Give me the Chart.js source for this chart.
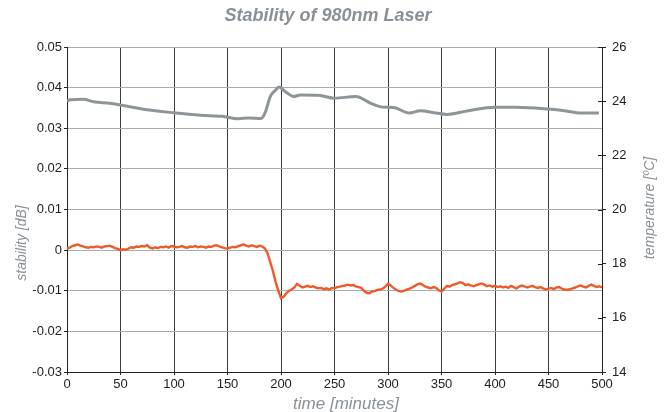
<!DOCTYPE html>
<html>
<head>
<meta charset="utf-8">
<title>Stability of 980nm Laser</title>
<script src="https://cdn.jsdelivr.net/npm/chart.js@4.4.0/dist/chart.umd.min.js"></script>
<style>
  body { margin: 0; background: #fff; }
  #wrap { width: 668px; height: 412px; }
</style>
</head>
<body>
<div id="wrap"><canvas id="chart" width="668" height="412"></canvas></div>
<script>
// stability [dB], sampled every 2.5 minutes from t = 0
var stabilityStart = 0;
var stabilityStep = 2.5;
var stability = [
  0.0004, 0.0006, 0.0010, 0.0012, 0.0014, 0.0011, 0.0009, 0.0007, 0.0006, 0.0008,
  0.0007, 0.0009, 0.0008, 0.0006, 0.0009, 0.0010, 0.0011, 0.0008, 0.0005, 0.0003,
  0.0000, 0.0002, 0.0001, 0.0004, 0.0007, 0.0006, 0.0009, 0.0008, 0.0010, 0.0009,
  0.0012, 0.0006, 0.0004, 0.0007, 0.0005, 0.0008, 0.0007, 0.0009, 0.0006, 0.0010,
  0.0009, 0.0007, 0.0008, 0.0010, 0.0007, 0.0006, 0.0009, 0.0008, 0.0010, 0.0007,
  0.0009, 0.0008, 0.0006, 0.0009, 0.0008, 0.0011, 0.0012, 0.0009, 0.0007, 0.0005,
  0.0004, 0.0006, 0.0008, 0.0007, 0.0010, 0.0012, 0.0014, 0.0011, 0.0009, 0.0012,
  0.0010, 0.0008, 0.0011, 0.0009, 0.0004, -0.0008, -0.0030, -0.0052, -0.0078, -0.0100,
  -0.0118, -0.0115, -0.0106, -0.0100, -0.0097, -0.0092, -0.0083, -0.0088, -0.0092, -0.0090,
  -0.0088, -0.0091, -0.0089, -0.0092, -0.0094, -0.0093, -0.0096, -0.0094, -0.0097, -0.0093,
  -0.0094, -0.0091, -0.0090, -0.0088, -0.0087, -0.0085, -0.0087, -0.0086, -0.0089, -0.0091,
  -0.0093, -0.0100, -0.0105, -0.0106, -0.0102, -0.0101, -0.0098, -0.0097, -0.0095, -0.0090,
  -0.0083, -0.0087, -0.0093, -0.0097, -0.0101, -0.0102, -0.0100, -0.0097, -0.0095, -0.0092,
  -0.0088, -0.0084, -0.0082, -0.0086, -0.0090, -0.0092, -0.0094, -0.0091, -0.0093, -0.0099,
  -0.0102, -0.0095, -0.0088, -0.0090, -0.0086, -0.0084, -0.0082, -0.0079, -0.0081, -0.0086,
  -0.0084, -0.0087, -0.0089, -0.0086, -0.0084, -0.0082, -0.0085, -0.0089, -0.0087, -0.0090,
  -0.0088, -0.0091, -0.0089, -0.0092, -0.0090, -0.0093, -0.0088, -0.0091, -0.0094, -0.0090,
  -0.0087, -0.0089, -0.0092, -0.0090, -0.0088, -0.0091, -0.0093, -0.0091, -0.0094, -0.0097,
  -0.0095, -0.0093, -0.0096, -0.0092, -0.0091, -0.0095, -0.0097, -0.0098, -0.0096, -0.0094,
  -0.0092, -0.0089, -0.0087, -0.0090, -0.0092, -0.0088, -0.0085, -0.0088, -0.0091, -0.0089,
  -0.0092
];

// temperature [ºC] read at these times [minutes]
var tempTime = [0, 3, 15, 25, 40, 50, 70, 100, 125, 145, 160, 170, 181, 185, 190, 195, 198,
  205, 212, 218, 235, 250, 270, 285, 295, 305, 320, 330, 345, 355, 375, 400, 420, 450, 465, 480, 497];
var temperature = [24.00, 24.05, 24.07, 23.98, 23.92, 23.86, 23.71, 23.57, 23.48, 23.44, 23.35, 23.38, 23.36, 23.56, 24.17, 24.41, 24.52,
  24.32, 24.17, 24.23, 24.22, 24.11, 24.17, 23.90, 23.78, 23.77, 23.56, 23.65, 23.56, 23.51, 23.65, 23.78, 23.78, 23.71, 23.65, 23.56, 23.56];

var titleText = 'Stability of 980nm Laser';
var xTitle = 'time [minutes]';
var yTitle = 'stability [dB]';
var y2Title = 'temperature [ºC]';

var FONT = "'Liberation Sans', Arial, sans-serif";
var GREY = '#8a9196';
var INK = '#222';

var stabilityPoints = stability.map(function (v, i) {
  return { x: stabilityStart + i * stabilityStep, y: v };
});
var tempPoints = tempTime.map(function (t, i) {
  return { x: t, y: temperature[i] };
});

// axis titles drawn by hand so that they sit where the original puts them
var axisTitles = {
  id: 'axisTitles',
  afterDraw: function (chart) {
    var ctx = chart.ctx, a = chart.chartArea;
    ctx.save();
    ctx.fillStyle = GREY;
    ctx.textAlign = 'center';
    ctx.textBaseline = 'middle';
    ctx.font = 'italic 17px ' + FONT;
    ctx.fillText(xTitle, 346, 404);

    ctx.font = 'italic 14px ' + FONT;
    ctx.save();
    ctx.translate(22, 243);
    ctx.rotate(-Math.PI / 2);
    ctx.fillText(yTitle, 0, 0);
    ctx.restore();

    ctx.save();
    ctx.translate(650, 208);
    ctx.rotate(-Math.PI / 2);
    ctx.fillText(y2Title, 0, 0);
    ctx.restore();

    // right axis ticks cross the axis line
    var s = chart.scales.y2;
    ctx.strokeStyle = INK;
    ctx.lineWidth = 1;
    s.ticks.forEach(function (t, i) {
      var py = Math.round(s.getPixelForTick(i)) + 0.5;
      ctx.beginPath();
      ctx.moveTo(a.right - 4, py);
      ctx.lineTo(a.right, py);
      ctx.stroke();
    });
    ctx.restore();
  }
};

new Chart(document.getElementById('chart'), {
  type: 'line',
  data: {
    datasets: [{
      label: 'stability',
      data: stabilityPoints,
      yAxisID: 'y',
      borderColor: '#ef5a2b',
      borderWidth: 2.4,
      pointRadius: 0,
      tension: 0
    }, {
      label: 'temperature',
      data: tempPoints,
      yAxisID: 'y2',
      borderColor: '#8e9599',
      borderWidth: 3,
      pointRadius: 0,
      cubicInterpolationMode: 'monotone'
    }]
  },
  options: {
    responsive: false,
    animation: false,
    devicePixelRatio: 1,
    layout: { padding: { left: 0, right: 12, top: 0, bottom: 0 } },
    plugins: {
      legend: { display: false },
      tooltip: { enabled: false },
      title: {
        display: true,
        text: titleText,
        color: GREY,
        font: { family: FONT, size: 18, weight: 'bold', style: 'italic' },
        padding: { top: 5, bottom: 20.4 }
      }
    },
    scales: {
      x: {
        type: 'linear',
        min: 0, max: 500,
        ticks: { stepSize: 50, color: INK, font: { family: FONT, size: 13 }, padding: 2, maxRotation: 0 },
        grid: { color: '#3a3a3a', tickColor: INK, tickLength: 3 },
        border: { color: INK },
        afterFit: function (s) { s.height = 40; }
      },
      y: {
        position: 'left',
        min: -0.03, max: 0.05,
        ticks: {
          stepSize: 0.01, color: INK, font: { family: FONT, size: 13 }, padding: 2,
          callback: function (v) { return String(Number(v.toFixed(2))); }
        },
        grid: { color: '#a9adb0', tickColor: INK, tickLength: 3 },
        border: { color: INK },
        afterFit: function (s) { s.width = 67; }
      },
      y2: {
        position: 'right',
        min: 14, max: 26,
        ticks: { stepSize: 2, color: INK, font: { family: FONT, size: 13 }, padding: 6 },
        grid: { drawOnChartArea: false, color: INK, tickLength: 4 },
        border: { color: INK },
        afterFit: function (s) { s.width = 54; }
      }
    }
  },
  plugins: [axisTitles]
});
</script>
</body>
</html>
